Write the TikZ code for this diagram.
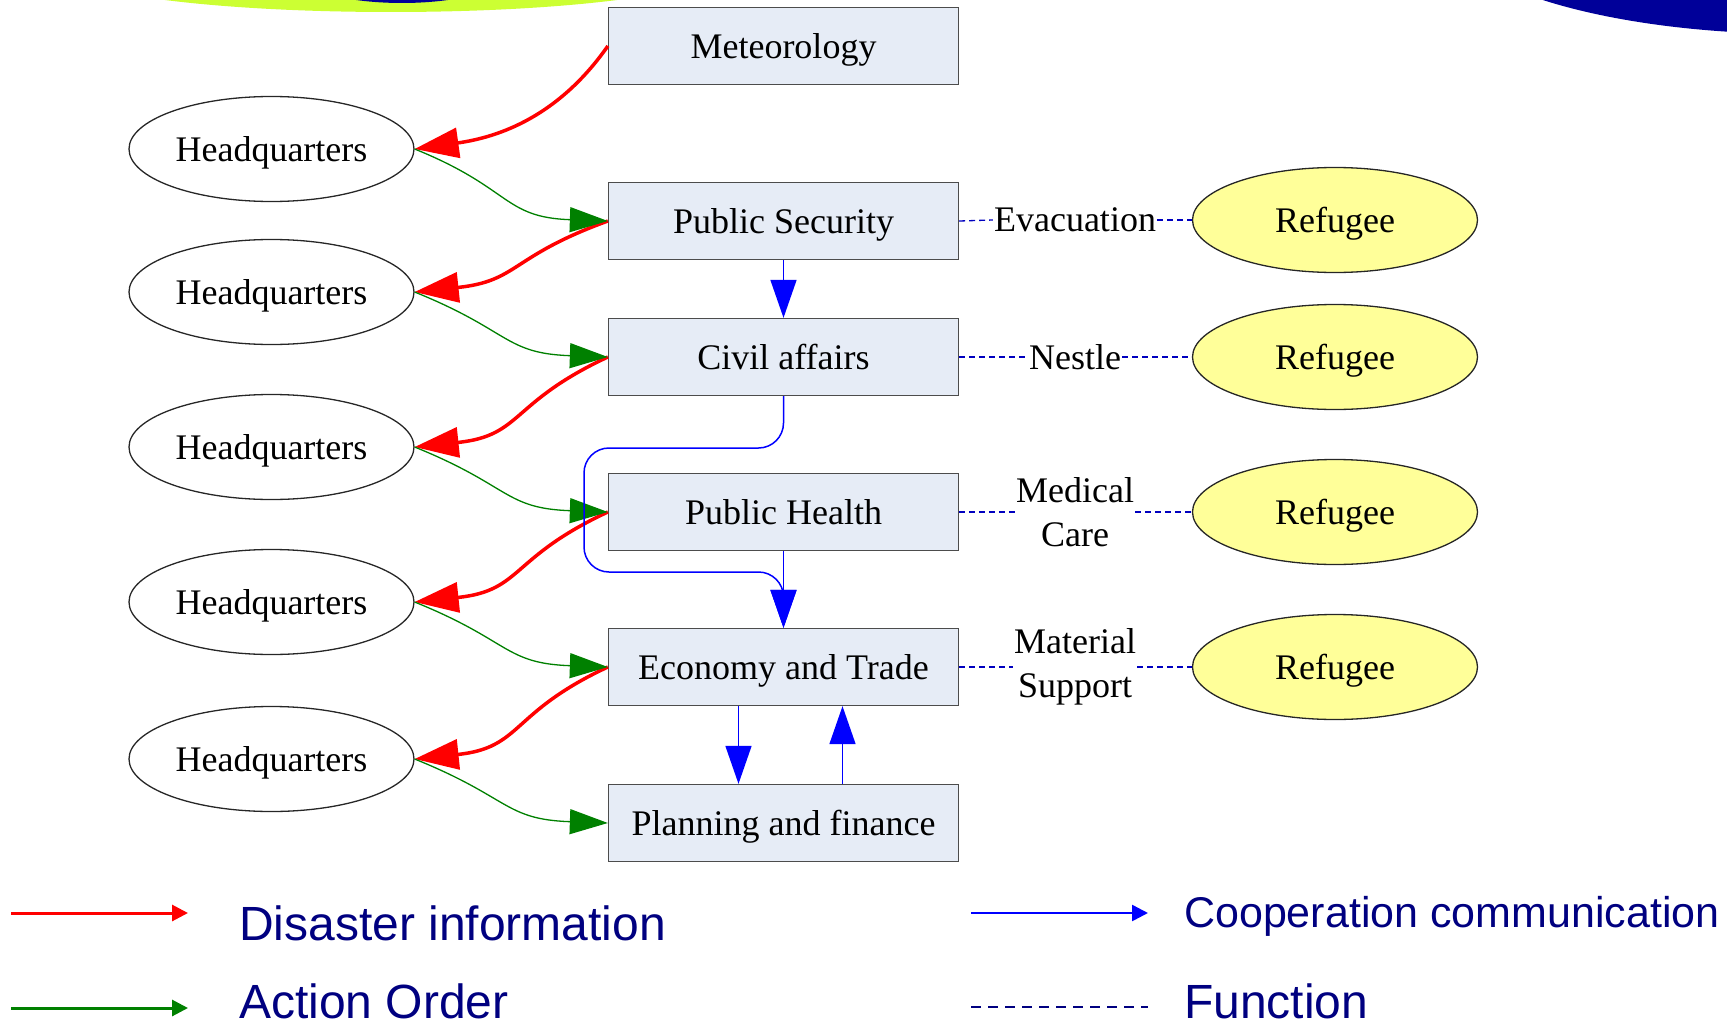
\documentclass[tikz,border=0pt]{standalone}
\usepackage{fontspec}
\setmainfont{Liberation Serif}
\newfontfamily\legendfont{Liberation Sans}
\usetikzlibrary{arrows.meta,shapes.geometric}

\definecolor{boxfill}{HTML}{E6ECF6}
\definecolor{refugeefill}{HTML}{FFFF99}
\definecolor{legendnavy}{HTML}{000080}
\definecolor{ordergreen}{HTML}{008000}
\definecolor{blobgreen}{HTML}{CCFF33}
\definecolor{blobblue}{HTML}{000099}

\tikzset{
  dept/.style={draw=black!70, line width=1.3pt, fill=boxfill, minimum width=350pt, minimum height=77pt, text depth=0pt, font=\fontsize{36}{40}\selectfont},
  hq/.style={ellipse, draw=black!85, line width=1.3pt, inner sep=0pt, minimum width=285pt, minimum height=105pt, text depth=0pt, font=\fontsize{36}{40}\selectfont},
  refugee/.style={hq, fill=refugeefill},
  funclabel/.style={inner sep=1pt, align=center, font=\fontsize{36}{44}\selectfont},
  disaster/.style={red, line width=3.5pt, -{Triangle[length=44pt,width=30pt]}},
  order/.style={ordergreen, line width=1.3pt, -{Triangle[length=38pt,width=25pt]}},
  coop/.style={blue, line width=1.5pt, -{Triangle[length=38pt,width=26pt]}},
  func/.style={blue!75!black, line width=1.3pt, dash pattern=on 6pt off 4pt},
  legendtext/.style={anchor=base west, inner sep=0pt, text=legendnavy, font=\legendfont\fontsize{48}{52}\selectfont},
}

\begin{document}
\begin{tikzpicture}[x=1pt, y=-1pt]
\useasboundingbox (0,0) rectangle (1727,1025);

% Slide background
\begin{scope}
\clip (0,0) rectangle (1727,1025);
\fill[blobgreen] (391,-30) ellipse (323 and 42);
\fill[blobblue] (402,-30) ellipse (110 and 33);
\fill[blobblue] (1800,-80) ellipse (361 and 114);
\end{scope}

% Departments
\node[dept] (met) at (783.5,46) {Meteorology};
\node[dept] (sec) at (783.5,221) {Public Security};
\node[dept] (civil) at (783.5,357) {Civil affairs};
\node[dept] (health) at (783.5,512) {Public Health};
\node[dept] (econ) at (783.5,667) {Economy and Trade};
\node[dept] (plan) at (783.5,823) {Planning and finance};

% Headquarters
\node[hq] (hq1) at (271.5,149) {Headquarters};
\node[hq] (hq2) at (271.5,292) {Headquarters};
\node[hq] (hq3) at (271.5,447) {Headquarters};
\node[hq] (hq4) at (271.5,602) {Headquarters};
\node[hq] (hq5) at (271.5,759) {Headquarters};

% Refugees
\node[refugee] (ref1) at (1335,220) {Refugee};
\node[refugee] (ref2) at (1335,357) {Refugee};
\node[refugee] (ref3) at (1335,512) {Refugee};
\node[refugee] (ref4) at (1335,667) {Refugee};

% Functions
\node[funclabel] (evac) at (1075,220) {Evacuation};
\node[funclabel] (nest) at (1075,357) {Nestle};
\node[funclabel] (care) at (1075,512) {Medical\\Care};
\node[funclabel] (supp) at (1075,667) {Material\\Support};

\draw[func] (sec.east) -- (evac.west);
\draw[func] (evac.east) -- (ref1.west);
\draw[func] (civil.east) -- (nest.west);
\draw[func] (nest.east) -- (ref2.west);
\draw[func] (health.east) -- (care.west);
\draw[func] (care.east) -- (ref3.west);
\draw[func] (econ.east) -- (supp.west);
\draw[func] (supp.east) -- (ref4.west);

% Disaster information
\draw[disaster] (met.west) to[out=235, in=8] (hq1.east);
\draw[disaster] (sec.west) to[out=200, in=6, looseness=1.3] (hq2.east);
\draw[disaster] (civil.west) to[out=205, in=6, looseness=1.3] (hq3.east);
\draw[disaster] (health.west) to[out=205, in=6, looseness=1.3] (hq4.east);
\draw[disaster] (econ.west) to[out=205, in=6, looseness=1.3] (hq5.east);

% Action orders
\draw[order] (hq1.east) to[out=-22, in=178, looseness=1.3] (sec.west);
\draw[order] (hq2.east) to[out=-22, in=178, looseness=1.3] (civil.west);
\draw[order] (hq3.east) to[out=-22, in=178, looseness=1.3] (health.west);
\draw[order] (hq4.east) to[out=-22, in=178, looseness=1.3] (econ.west);
\draw[order] (hq5.east) to[out=-22, in=178, looseness=1.3] (plan.west);

% Cooperation
\draw[coop] (sec.south) -- (civil.north);
\draw[coop, rounded corners=25pt] (civil.south) -- (783.5,448) -- (584,448) -- (584,572) -- (783.5,572) -- (econ.north);
\draw[coop] (health.south) -- (econ.north);
\draw[coop] ([xshift=-45pt]econ.south) -- ([xshift=-45pt]plan.north);
\draw[coop] ([xshift=59pt]plan.north) -- ([xshift=59pt]econ.south);

% Legend
\coordinate (disA) at (11,913);
\coordinate (disB) at (188,913);
\coordinate (ordA) at (11,1008);
\coordinate (ordB) at (188,1008);
\coordinate (coopA) at (971,913);
\coordinate (coopB) at (1148,913);
\coordinate (funcA) at (971,1007);
\coordinate (funcB) at (1148,1007);
\draw[red, line width=3pt, -{Triangle[length=16pt,width=16pt]}] (disA) -- (disB);
\draw[ordergreen, line width=3pt, -{Triangle[length=16pt,width=16pt]}] (ordA) -- (ordB);
\draw[blue, line width=2.5pt, -{Triangle[length=16pt,width=16pt]}] (coopA) -- (coopB);
\draw[legendnavy, line width=2pt, dash pattern=on 10pt off 7pt] (funcA) -- (funcB);
\node[legendtext] (distext) at (239,940) {Disaster information};
\node[legendtext] (ordtext) at (239,1018) {Action Order};
\node[legendtext, font=\legendfont\fontsize{43}{48}\selectfont] (cooptext) at (1184,927) {Cooperation communication};
\node[legendtext] (functext) at (1184,1018) {Function};
\end{tikzpicture}
\end{document}
